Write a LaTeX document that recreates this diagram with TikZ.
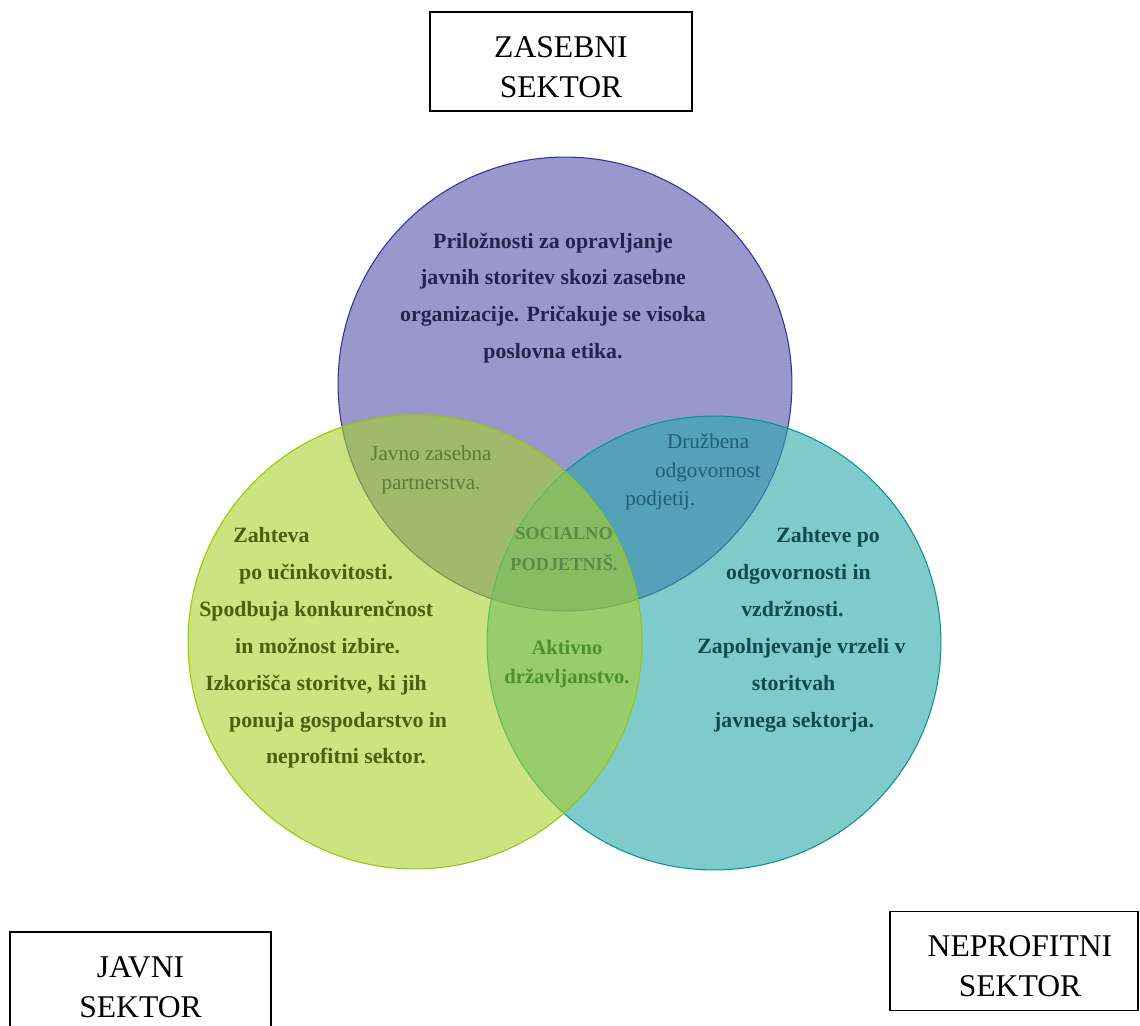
\documentclass[tikz,border=0pt]{standalone}
\usepackage{fontspec}
\setmainfont{Liberation Serif}

\definecolor{zasebnibarva}{RGB}{83,83,170}
\definecolor{javnibarva}{RGB}{168,208,43}
\definecolor{neprofitnibarva}{RGB}{42,168,170}
\definecolor{zasebnirob}{RGB}{50,50,150}
\definecolor{javnirob}{RGB}{150,200,0}
\definecolor{neprofitnirob}{RGB}{0,150,150}
\definecolor{zasebnitekst}{RGB}{35,35,80}
\definecolor{javnitekst}{RGB}{75,95,15}
\definecolor{neprofitnitekst}{RGB}{15,75,75}
\definecolor{jzptekst}{RGB}{95,120,55}
\definecolor{druzbenatekst}{RGB}{30,95,115}
\definecolor{socialnotekst}{RGB}{88,140,70}
\definecolor{aktivnotekst}{RGB}{75,145,45}

\tikzset{
  sektor/.style={draw, line width=0.8pt, minimum width=#1, minimum height=1.98cm,
    align=center, font=\fontsize{18}{22.7}\selectfont},
  krog/.style={line width=0.6pt, fill opacity=0.6},
  opis/.style={inner sep=0pt, font=\bfseries\fontsize{12.4}{21}\selectfont},
  presek/.style={inner sep=0pt, font=\fontsize{12}{16.2}\selectfont},
}

\begin{document}
\begin{tikzpicture}[x=0.02cm,y=-0.02cm]
                \useasboundingbox (0,0) rectangle (1140,1025);
                \coordinate (Z) at (565,384);
                \coordinate (N) at (714,643);
                \coordinate (J) at (415,642);

                \draw[krog, draw=zasebnirob, fill=zasebnibarva] (Z) circle[radius=4.54cm];
                \draw[krog, draw=neprofitnirob, fill=neprofitnibarva] (N) circle[radius=4.54cm];
                \draw[krog, draw=javnirob, fill=javnibarva] (J) circle[radius=4.54cm];

                \node[sektor=5.24cm] (zasebni) at (561,61.5) {\rule{0pt}{18pt}ZASEBNI\\SEKTOR};
                \node[sektor=5.22cm] (javni) at (140.5,981.5) {\rule{0pt}{18pt}JAVNI\\SEKTOR};
                \node[sektor=4.96cm] (neprofitni) at (1014,961) {\rule{0pt}{18pt}\hspace*{6.8pt}NEPROFITNI\\\hspace*{6.8pt}SEKTOR};

                \node[opis, text=zasebnitekst, align=center] (zasebniopis) at (553,298)
                  {Priložnosti za opravljanje\\javnih storitev skozi zasebne\\organizacije. Pričakuje se visoka\\poslovna etika.};
                \node[opis, text=javnitekst, align=left, anchor=west] (javniopis) at (199,648)
                  {\hspace*{19.3pt}Zahteva\\\hspace*{22.7pt}po učinkovitosti.\\Spodbuja konkurenčnost\\\hspace*{20.4pt}in možnost izbire.\\\hspace*{3.4pt}Izkorišča storitve, ki jih\\\hspace*{17pt}ponuja gospodarstvo in\\\hspace*{38pt}neprofitni sektor.};
                \node[opis, text=neprofitnitekst, align=left, anchor=west] (neprofitniopis) at (697,630)
                  {\hspace*{45pt}Zahteve po\\\hspace*{16.4pt}odgovornosti in\\\hspace*{25pt}vzdržnosti.\\Zapolnjevanje vrzeli v\\\hspace*{31pt}storitvah\\\hspace*{9.6pt}javnega sektorja.};

                \node[presek, text=jzptekst, align=center] (jzp) at (431,470) {Javno zasebna\\partnerstva.};
                \node[presek, text=druzbenatekst, align=left, anchor=west] (druzbena) at (625,472)
                  {\hspace*{23.8pt}Družbena\\\hspace*{17pt}odgovornost\\podjetij.};
                \node[inner sep=0pt, text=socialnotekst, align=center, font=\bfseries\fontsize{10.4}{18}\selectfont] (socialno) at (564,549) {SOCIALNO\\PODJETNIŠ.};
                \node[inner sep=0pt, text=aktivnotekst, align=center, font=\bfseries\fontsize{11.7}{16.4}\selectfont] (aktivno) at (567,664) {Aktivno\\državljanstvo.};
            \end{tikzpicture}
\end{document}
